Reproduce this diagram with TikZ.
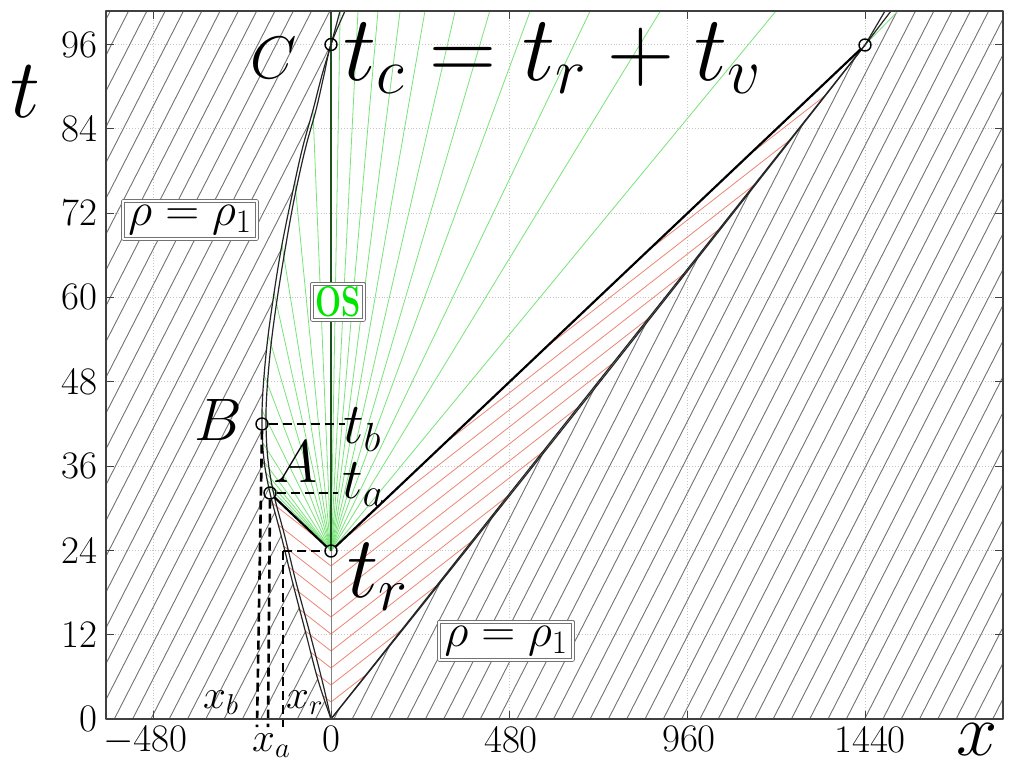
\RequirePackage{fix-cm}
\documentclass[tikz,border=0pt]{standalone}
\newcommand\fsz[1]{\fontsize{#1}{#1}\selectfont}
\definecolor{fan}{RGB}{120,228,120}
\definecolor{salmon}{RGB}{235,135,115}
\definecolor{osgreen}{RGB}{0,230,0}
\definecolor{dgreen}{RGB}{30,80,30}
\tikzset{
  gridline/.style={gray!45,dotted,line width=0.9pt},
  hatch/.style={black!55,line width=0.9pt},
  redline/.style={salmon,line width=0.8pt},
  fanline/.style={fan,line width=0.8pt},
  curve/.style={black!85,line width=1.2pt},
  thickline/.style={black,line width=2.2pt},
  dashline/.style={black,line width=2.6pt,dash pattern=on 9pt off 5pt},
  circ/.style={circle,draw=black,line width=1.4pt,minimum size=12pt,inner sep=0pt},
  rhobox/.style={draw=black!55,double=white,double distance=1.6pt,line width=0.9pt,
     minimum width=134pt,minimum height=38pt,inner sep=0pt,fill=white},
  ticklab/.style={inner sep=0pt,font=\fsz{39}},
}
\begin{document}
\begin{tikzpicture}[x=1pt,y=-1pt,line join=round]
\useasboundingbox (0,0) rectangle (1012,772);
\fill[white] (0,0) rectangle (1012,772);
% grid
\foreach \gx in {153,509,687,865} \draw[gridline] (\gx,11) -- (\gx,719);
\foreach \gy in {634.7,550.4,466.1,381.8,297.4,213.1,128.8,44.5} \draw[gridline] (106,\gy) -- (1003,\gy);
% left hatch
\begin{scope}
\clip (106,11) -- (340,11) -- plot[smooth,tension=0.6] coordinates {(340,11)(331,44.5)(322,75)(313,110)(302,150)(291,200)(281,250)(273,300)(267,345)(263,390)(262,424)(264,460)(270,493)(281,535)(292,580)(305,630)(318,680)(331,719)} -- (106,719) -- cycle;
\foreach \i in {0,...,75} \draw[hatch] ({-270+18.3*\i},719) -- ++(362,-708);
\end{scope}
% right hatch
\begin{scope}
\clip (331,719) -- (865,45) -- (892,11) -- (1003,11) -- (1003,719) -- cycle;
\foreach \i in {0,...,75} \draw[hatch] ({-270+18.3*\i},719) -- ++(362,-708);
\end{scope}
% red wedge right
\begin{scope}
\clip (331,719) -- (331,551) -- (865,45) -- cycle;
\foreach \k in {0,...,18} \draw[redline] (331,{719-17*\k}) -- ++(700,-546);
\end{scope}
% red left
\begin{scope}
\clip (331,719) -- (331,551) -- (270,493) -- plot[smooth,tension=0.6] coordinates {(270,493)(281,535)(292,580)(305,630)(318,680)(331,719)} -- cycle;
\foreach \k in {0,...,12} \draw[redline] (331,{719-17*\k}) -- ++(-200,-156);
\end{scope}
% green fan
\coordinate (TR) at (331,551);
\begin{scope}
\clip (331,551) -- (270,493) -- plot[smooth,tension=0.6] coordinates {(270,493)(264,460)(262,424)(263,390)(267,345)(273,300)(281,250)(291,200)(302,150)(313,110)(322,75)(331,44.5)(340,11)} -- (898,11) -- (865,45) -- cycle;
\foreach \v in {-0.97,-0.9,-0.83,-0.75,-0.63,-0.49,-0.38,-0.29,-0.22,-0.16,-0.098,-0.041,0.017,0.05,0.087,0.128,0.174,0.23,0.294,0.369,0.48,0.61,0.824}
  \draw[fanline] (TR) -- ({331+\v*540},11);
\end{scope}
\coordinate (C2) at (865,45);
\coordinate (CT) at (898,11);
\draw[fanline] (C2) -- (CT);
% vertical line x=0
\coordinate (O) at (331,719);
\coordinate (Ctop) at (331,11);
\draw[black!50,line width=0.8pt] (O) -- (TR);
\draw[dgreen,line width=1.1pt] (TR) -- (Ctop);
% left double curve
\draw[curve] plot[smooth,tension=0.6] coordinates {(331,719)(318,680)(305,630)(292,580)(281,535)(270,493)(264,460)(262,424)(263,390)(267,345)(273,300)(281,250)(291,200)(302,150)(313,110)(322,75)(331,44.5)(340,11)};
\draw[curve] plot[smooth,tension=0.6] coordinates {(331,719)(322,680)(309,630)(296,582)(285,537)(274,495)(268,460)(266,424)(267,390)(271,345)(277,300)(285,250)(294,200)(305,150)(316,110)(324,75)(331,44.5)(345,11)};
% right double lines
\draw[curve] (O) -- (C2);
\draw[curve] (O) .. controls (500,509) and (700,256) .. (C2);
\coordinate (CE1) at (885,11);
\coordinate (CE2) at (891,11);
\draw[curve] (C2) -- (CE1);
\draw[curve] (C2) -- (CE2);
% circles
\node[circ] (A) at (270,493) {};
\node[circ] (B) at (262,424) {};
\node[circ] (C) at (331,44.5) {};
\node[circ] (R) at (331,551) {};
\node[circ] (D) at (865,45) {};
% thick lines
\draw[thickline] (A) -- (R);
\draw[thickline] (R) -- (D);
% dashed
\coordinate (tbE) at (345,424);
\coordinate (taE) at (338,493);
\coordinate (xb) at (257,727);
\coordinate (xa) at (268,727);
\coordinate (xrT) at (283,551);
\coordinate (xr) at (283,727);
\draw[dashline] (B) -- (tbE);
\draw[dashline] (A) -- (taE);
\draw[dashline] (xrT) -- (R);
\draw[dashline] (B.south) -- (xb);
\draw[dashline] (A.south) -- (xa);
\draw[dashline] (xrT) -- (xr);
% frame and ticks
\draw[black!75,line width=1.2pt] (106,11) rectangle (1003,719);
\foreach \gx in {153,331,509,687,865} {\draw[black!75,line width=1pt] (\gx,719) -- (\gx,711); \draw[black!75,line width=1pt] (\gx,11) -- (\gx,19);}
\foreach \gy in {634.7,550.4,466.1,381.8,297.4,213.1,128.8,44.5} {\draw[black!75,line width=1pt] (106,\gy) -- (114,\gy); \draw[black!75,line width=1pt] (1003,\gy) -- (995,\gy);}
% tick labels
\node[ticklab,anchor=east] (y0) at (98,719) {0};
\node[ticklab,anchor=east] (y12) at (98,634.7) {12};
\node[ticklab,anchor=east] (y24) at (98,550.4) {24};
\node[ticklab,anchor=east] (y36) at (98,466.1) {36};
\node[ticklab,anchor=east] (y48) at (98,381.8) {48};
\node[ticklab,anchor=east] (y60) at (98,297.4) {60};
\node[ticklab,anchor=east] (y72) at (98,213.1) {72};
\node[ticklab,anchor=east] (y84) at (98,128.8) {84};
\node[ticklab,anchor=east] (y96) at (98,44.5) {96};
\node[ticklab,anchor=north] (xm480) at (145,726) {$-480$};
\node[ticklab,anchor=north] (x0) at (331,726) {0};
\node[ticklab,anchor=north] (x480) at (511,726) {480};
\node[ticklab,anchor=north] (x960) at (689,726) {960};
\node[ticklab,anchor=north] (x1440) at (870,726) {1440};
% axis labels
\node[inner sep=0pt,anchor=base west,font=\fsz{84}] (tlab) at (10,117) {$t$};
\node[inner sep=0pt,anchor=base west,font=\fsz{74}] (xlab) at (956,755) {$x$};
% point labels
\node[inner sep=0pt,anchor=base east,font=\fsz{60}] (Clab) at (297,78) {$C$};
\node[inner sep=0pt,anchor=base west,font=\fsz{93}] (eq) at (343,80) {$t_c=t_r+t_v$};
\node[inner sep=0pt,anchor=base,font=\fsz{60}] (Blab) at (218,440) {$B$};
\node[inner sep=0pt,anchor=base,font=\fsz{60}] (Alab) at (296,482) {$A$};
\node[inner sep=0pt,anchor=base west,font=\fsz{58}] (tb) at (343,443) {$t_b$};
\node[inner sep=0pt,anchor=base west,font=\fsz{58}] (ta) at (342,498) {$t_a$};
\node[inner sep=0pt,anchor=base west,font=\fsz{88}] (tr) at (347,597) {$t_r$};
\node[inner sep=0pt,anchor=base west,font=\fsz{41}] (xblab) at (203,708) {$x_b$};
\node[inner sep=0pt,anchor=base west,font=\fsz{41}] (xrlab) at (286,708) {$x_r$};
\node[inner sep=0pt,anchor=base west,font=\fsz{41}] (xalab) at (252,751) {$x_a$};
% boxes
\node[rhobox,font=\fsz{47}] (rho1) at (190,220) {$\rho=\rho_1$};
\node[rhobox,font=\fsz{47}] (rho2) at (506,641) {$\rho=\rho_1$};
\node[rhobox,minimum width=52pt,minimum height=36pt,font=\fsz{43}\bfseries,text=osgreen] (os) at (338,302) {\scalebox{0.72}[1]{OS}};
\end{tikzpicture}
\end{document}
